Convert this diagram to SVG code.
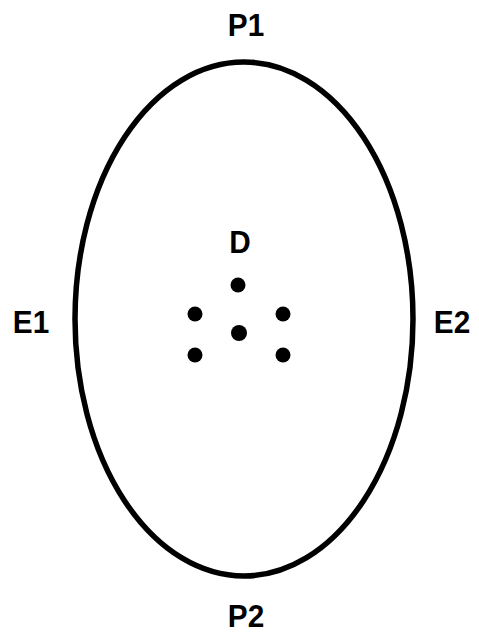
<svg xmlns="http://www.w3.org/2000/svg" width="479" height="635" viewBox="0 0 479 635">
<style>
text{font-family:"Liberation Sans",Arial,sans-serif;font-weight:bold;font-size:32px;fill:#000;text-anchor:middle}
.dot{fill:#000}
</style>
<rect width="479" height="635" fill="#fff"/>
<g id="ellipse"><ellipse cx="244" cy="319" rx="169" ry="257" fill="none" stroke="#000" stroke-width="5.5"/></g>
<g id="P1"><text x="246" y="36" transform="translate(246 0) scale(0.93 1) translate(-246 0)">P1</text></g>
<g id="P2"><text x="246" y="627" transform="translate(246 0) scale(0.93 1) translate(-246 0)">P2</text></g>
<g id="E1"><text x="31" y="333" transform="translate(31 0) scale(0.93 1) translate(-31 0)">E1</text></g>
<g id="E2"><text x="452" y="333" transform="translate(452 0) scale(0.93 1) translate(-452 0)">E2</text></g>
<g id="D"><text x="240" y="253" transform="translate(240 0) scale(0.93 1) translate(-240 0)">D</text></g>
<g id="dots">
<circle class="dot" cx="238" cy="285" r="7.5"/>
<circle class="dot" cx="195" cy="314" r="7.5"/>
<circle class="dot" cx="283" cy="314" r="7.5"/>
<circle class="dot" cx="239" cy="333" r="8"/>
<circle class="dot" cx="195" cy="355" r="7.5"/>
<circle class="dot" cx="283" cy="355" r="7.5"/>
</g>
<g id="connectors"/>
</svg>
